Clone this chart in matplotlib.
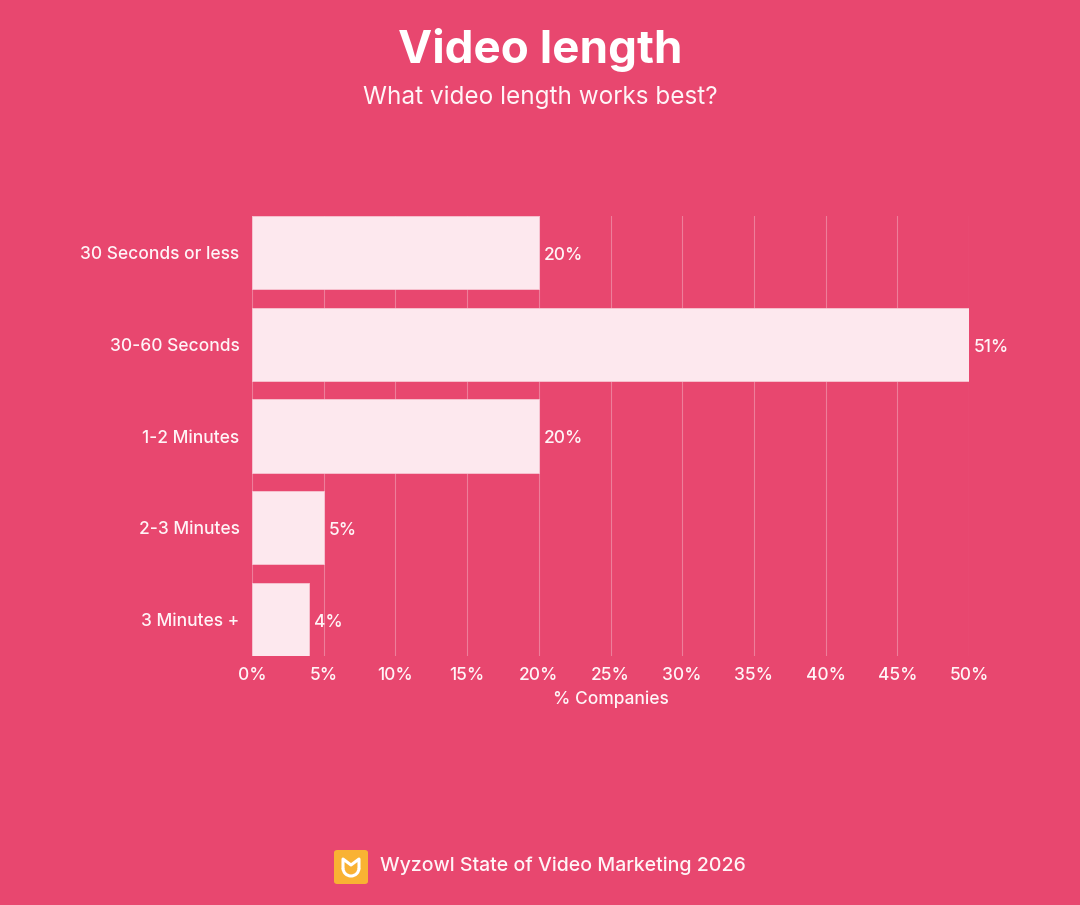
import matplotlib
matplotlib.use("Agg")
import matplotlib.pyplot as plt
from matplotlib.patches import FancyBboxPatch, Arc
from matplotlib.lines import Line2D
import numpy as np

categories = ["30 Seconds or less", "30-60 Seconds", "1-2 Minutes", "2-3 Minutes", "3 Minutes +"]
values = [20, 51, 20, 5, 4]
xticks = [0, 5, 10, 15, 20, 25, 30, 35, 40, 45, 50]

BG = "#E8476F"
BAR = "#FDE8EE"
TXT = "#FFF4F7"

plt.rcParams['font.family'] = ['Inter', 'DejaVu Sans']

fig = plt.figure(figsize=(10.8, 9.05), dpi=100, facecolor=BG)
ax = fig.add_axes([252/1080, 1-656/905, (969-252)/1080, (656-216)/905])
ax.set_facecolor(BG)

y = np.arange(len(categories))
ax.barh(y, values, height=0.8, color=BAR, edgecolor="#F7C6D3", linewidth=0.6, zorder=3)
ax.set_xlim(0, 50)
ax.set_ylim(len(categories) - 0.6, -0.4)
ax.set_yticks(y)
ax.set_yticklabels(categories, fontweight=500)
ax.set_xticks(xticks)
ax.set_xticklabels([f"{t}%" for t in xticks], fontweight=500)
ax.tick_params(axis='both', length=0, colors=TXT, labelsize=12.5)
ax.tick_params(axis='y', pad=9)
ax.tick_params(axis='x', pad=8)
for s in ax.spines.values():
    s.set_visible(False)
ax.grid(axis='x', color="#FFFFFF", alpha=0.3, linewidth=0.8, zorder=0)
ax.set_axisbelow(True)
ax.set_xlabel("% Companies", color=TXT, fontsize=12.5, fontweight=500, labelpad=4.5)

for yi, v in zip(y, values):
    xv = min(v, 50)
    ax.annotate(f"{v}%", xy=(xv, yi), xytext=(3.5, -2), textcoords="offset points",
                va="center", ha="left", color=TXT, fontsize=12.5, fontweight=500,
                annotation_clip=False)

fig.text(0.5, 1-50/905, "Video length", ha="center", va="center", color="white",
         fontsize=33, fontweight="bold")
fig.text(0.5, 1-97/905, "What video length works best?", ha="center", va="center",
         color=TXT, fontsize=17.5)

# footer logo
logo = FancyBboxPatch((334/1080, 1-884/905), 34/1080, 34/905,
                      boxstyle="round,pad=0,rounding_size=0.003",
                      transform=fig.transFigure, facecolor="#F9B233", edgecolor="none",
                      zorder=1)
fig.patches.append(logo)
cx, cy = 351, 867
r = 8
fig.patches.append(Arc((cx/1080, 1-(cy+1)/905), 2*r/1080, 2*r/905, theta1=180, theta2=360,
                       transform=fig.transFigure, color="white", linewidth=2.2, zorder=5))
px = [cx-r, cx-r, cx, cx+r, cx+r]
py = [cy+1, cy-8, cy-2, cy-8, cy+1]
fig.lines.append(Line2D([p/1080 for p in px], [1-q/905 for q in py],
                        transform=fig.transFigure, color="white", linewidth=2.2,
                        solid_joinstyle="round", solid_capstyle="round", zorder=5))
fig.text(380/1080, 1-866/905, "Wyzowl State of Video Marketing 2026", ha="left",
         va="center", color=TXT, fontsize=14.1, fontweight=500)

fig.savefig("out.png", dpi=100, facecolor=BG)
